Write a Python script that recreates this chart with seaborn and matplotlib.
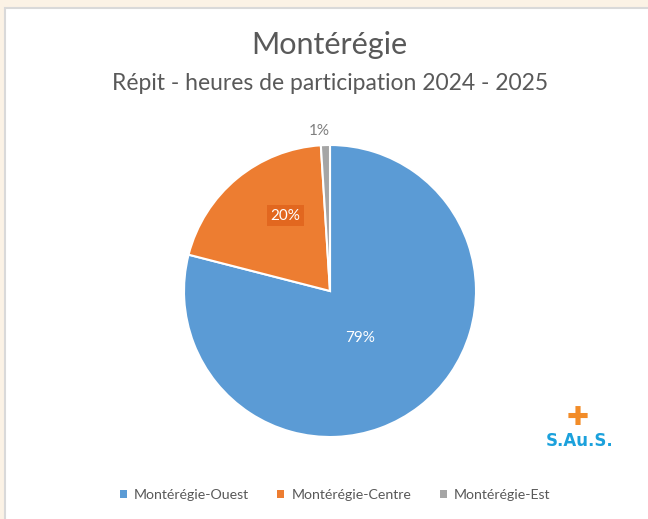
import numpy as np
import seaborn as sns
import matplotlib.pyplot as plt
from matplotlib.patches import Rectangle

# data
regions = ['Montérégie-Ouest', 'Montérégie-Centre', 'Montérégie-Est']
shares = [79, 20, 1]
colors = ['#5B9BD5', '#ED7D31', '#A5A5A5']

TEXT = '#595959'


def main():
    sns.set_theme(style='white')
    plt.rcParams['font.family'] = ['Lato', 'DejaVu Sans']

    fig = plt.figure(figsize=(6.48, 5.19), dpi=100)
    fig.patch.set_facecolor('#FBF2E5')

    # white card with thin gray border, kept behind the pie
    W, H = 648, 519
    fig.add_artist(Rectangle((5 / W, -0.01), 1, 1.01 - 8 / H, transform=fig.transFigure,
                             facecolor='white', edgecolor='#D9D9D9', lw=1.5,
                             zorder=-5))

    cx, cy, r = 330, 519 - 291, 146
    ax = fig.add_axes([(cx - r) / W, (cy - r) / H, 2 * r / W, 2 * r / H])
    ax.set_zorder(2)
    palette = sns.color_palette(colors)
    wedges, texts, autotexts = ax.pie(
        shares, colors=palette, startangle=90, counterclock=False,
        autopct='%1.0f%%', pctdistance=0.6,
        wedgeprops=dict(edgecolor='white', linewidth=1.5))
    ax.set_xlim(-1, 1)
    ax.set_ylim(-1, 1)
    ax.set_aspect('equal')
    ax.axis('off')

    # place percentage labels along each wedge's mid-angle
    radii = [0.38, 0.6, 1.1]
    angle_shift = [-5, -9, 2]
    for w, t, rad, sh in zip(wedges, autotexts, radii, angle_shift):
        ang = np.deg2rad((w.theta1 + w.theta2) / 2 + sh)
        t.set_position((rad * np.cos(ang), rad * np.sin(ang)))
        t.set_fontsize(11)
    autotexts[0].set_color('white')
    autotexts[1].set_color('white')
    autotexts[1].set_bbox(dict(facecolor='#E2671F', edgecolor='none', pad=2.5))
    autotexts[2].set_color('#7F7F7F')

    fig.text(329 / W, 1 - 45 / H, 'Montérégie', ha='center', va='center',
             fontsize=22, color=TEXT)
    fig.text(330 / W, 1 - 84 / H, 'Répit - heures de participation 2024 - 2025',
             ha='center', va='center', fontsize=16.5, color=TEXT)

    # legend
    handles = [Rectangle((0, 0), 1, 1, facecolor=c, edgecolor='none') for c in palette]
    fig.legend(handles, regions, loc='center', bbox_to_anchor=(335 / W, 1 - 495 / H),
               ncol=3, frameon=False, fontsize=10.2, labelcolor=TEXT,
               handlelength=0.5, handleheight=0.5, handletextpad=0.5,
               columnspacing=2.0)

    # S.Au.S. logo
    fig.text(578 / W, 1 - 418 / H, '✚', ha='center', va='center', fontsize=19,
             color='#F28C28', family=['DejaVu Sans'])
    fig.text(580 / W, 1 - 441 / H, 'S.Au.S.', ha='center', va='center',
             fontsize=12, color='#1BA1DC', fontweight='bold',
             family=['DejaVu Sans'])

    fig.savefig('out.png', dpi=100)


if __name__ == '__main__':
    main()
